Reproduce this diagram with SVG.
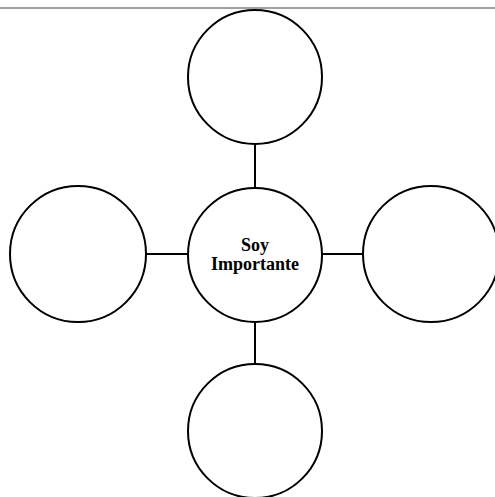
<svg xmlns="http://www.w3.org/2000/svg" width="495" height="497" viewBox="0 0 495 497">
<style>
.node circle{fill:#fff;stroke:#000;stroke-width:2}
.conn line{stroke:#000;stroke-width:2}
.lbl{font-family:"Liberation Serif","Times New Roman",serif;font-weight:bold;font-size:18px;fill:#000;text-anchor:middle}
</style>
<rect width="495" height="497" fill="#fff"/>
<g id="connectors" class="conn">
<line x1="255" y1="144" x2="255" y2="188"/>
<line x1="146" y1="254" x2="188" y2="254"/>
<line x1="322" y1="254" x2="364" y2="254"/>
<line x1="255" y1="322" x2="255" y2="364"/>
</g>
<g id="node-top" class="node"><circle cx="255" cy="77" r="67"/></g>
<g id="node-left" class="node"><circle cx="78" cy="254" r="68"/></g>
<g id="node-right" class="node"><circle cx="431" cy="254" r="68"/></g>
<g id="node-bottom" class="node"><circle cx="255" cy="431" r="67"/></g>
<g id="node-center" class="node"><circle cx="255" cy="255" r="67"/>
<text class="lbl" x="255" y="251">Soy</text>
<text class="lbl" x="255" y="270">Importante</text>
</g>
<line x1="0" y1="8" x2="495" y2="8" stroke="#808080" stroke-width="1.5"/>
</svg>
